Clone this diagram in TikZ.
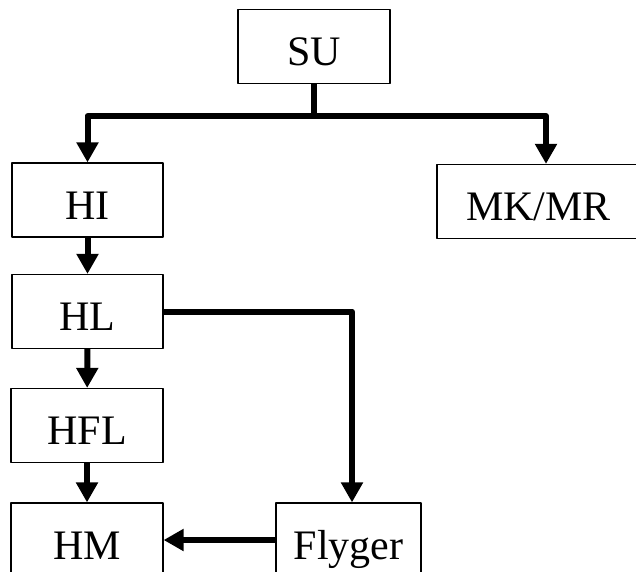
\documentclass[tikz,border=0pt]{standalone}
\usepackage{fontspec}
\setmainfont{Liberation Serif}
\usetikzlibrary{arrows.meta}
\begin{document}
\begin{tikzpicture}[x=1pt,y=-1pt,line join=round,font=\fontsize{42}{50}\selectfont,
	box/.style={draw,line width=1.2pt,minimum height=74pt,text height=38pt,text depth=0pt,inner sep=0pt},
	arr/.style={line width=6pt,-{Triangle[length=20pt,width=21pt]}}]
	\useasboundingbox (0,0) rectangle (636,571);
	\foreach \i/\t/\x/\y/\w in {SU/SU/314/46.5/152,HI/HI/87.5/200/151,HL/HL/87.5/311.5/151,HFL/HFL/87/425.5/152,HM/HM/87/540/152,Fl/Flyger/348.5/540/145,MK/{MK/MR}/538.5/201.5/203}
	\node[box,minimum width=\w](\i) at (\x,\y){\t};
	\path (0,116)coordinate(bus) (546,0)coordinate(mk) (352,0)coordinate(fl);
	\draw[arr] (SU.south)--(SU.south|-bus)-|(HI.north);
	\draw[arr] (SU.south|-bus)-|(MK.north-|mk);
	\draw[arr] (HI)--(HL);
	\draw[arr] (HL)--(HFL);
	\draw[arr] (HFL)--(HM);
	\draw[arr] (HL.east)-|(Fl.north-|fl);
	\draw[arr] (Fl)--(HM);
\end{tikzpicture}
\end{document}
